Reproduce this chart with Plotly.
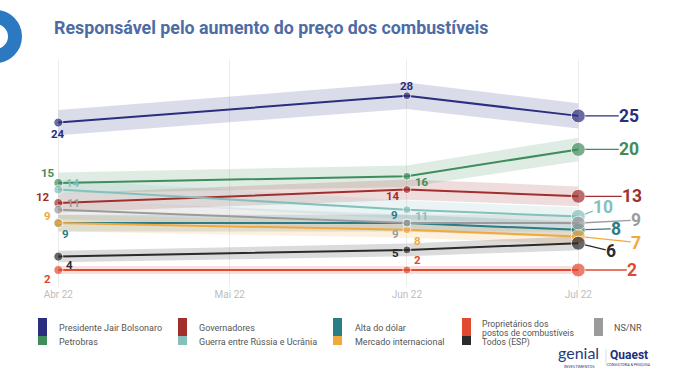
import math
import plotly.graph_objects as go

W, H = 679, 380

# ---------------- data ----------------
months = ["2022-04-01", "2022-05-01", "2022-06-01", "2022-07-01"]
month_labels = ["Abr 22", "Mai 22", "Jun 22", "Jul 22"]

series_names = [
    "Presidente Jair Bolsonaro",
    "Petrobras",
    "Governadores",
    "Guerra entre Rússia e Ucrânia",
    "Alta do dólar",
    "Mercado internacional",
    "Proprietários dos postos de combustíveis",
    "Todos (ESP)",
    "NS/NR",
]
bolsonaro = [24, None, 28, 25]
petrobras = [15, None, 16, 20]
governadores = [12, None, 14, 13]
guerra = [14, None, 11, 10]
alta_dolar = [9, None, 9, 8]
mercado = [9, None, 8, 7]
proprietarios = [2, None, 2, 2]
todos = [4, None, 5, 6]
nsnr = [11, None, 9, 9]
sample_size = 2000  # used for the shaded margin-of-error bands

values = [bolsonaro, petrobras, governadores, guerra, alta_dolar,
          mercado, proprietarios, todos, nsnr]

# ---------------- styles ----------------
colors = ["#2b2e7e", "#3f8c5c", "#a12f2d", "#86c0bb", "#2a7c87",
          "#f2a93b", "#e14a30", "#2b2b2b", "#9b9b9b"]
# label offsets in pixels (dx, dy; dy positive = down) for Abr / Jun / Jul
off_abr = [(0, 11), (-10, -10), (-15, -6), (15, -7), (7, 11),
           (-11, -7), (-11, 9), (11, 8), (15, -7)]
off_jun = [(0, -10), (15, 6), (-14, 6), (15, 6), (-12, -8),
           (11, 11), (11, -10), (-11, 3), (-11, 11)]
off_jul = [(51, 0), (51, 0), (54, 0), (25, -9), (38, -1),
           (58, 6), (54, 0), (33, 8), (58, -3)]
FONT = "Roboto"


def rgba(hexc, a):
    h = hexc.lstrip("#")
    r, g, b = int(h[0:2], 16), int(h[2:4], 16), int(h[4:6], 16)
    return f"rgba({r},{g},{b},{a})"


def px(x):
    return x / W


def py(y):
    return 1 - y / H


fig = go.Figure()

# bands
for vals, c in zip(values, colors):
    xs = [m for m, v in zip(months, vals) if v is not None]
    vs = [v for v in vals if v is not None]
    moe = [1.96 * math.sqrt((v / 100) * (1 - v / 100) / sample_size) * 100 for v in vs]
    up = [v + e for v, e in zip(vs, moe)]
    lo = [v - e for v, e in zip(vs, moe)]
    fig.add_trace(go.Scatter(
        x=xs + xs[::-1], y=up + lo[::-1], fill="toself", mode="none",
        fillcolor=rgba(c, 0.17), hoverinfo="skip", showlegend=False))

# lines + dots
for name, vals, c in zip(series_names, values, colors):
    xs = [m for m, v in zip(months, vals) if v is not None]
    vs = [v for v in vals if v is not None]
    fig.add_trace(go.Scatter(
        x=xs, y=vs, mode="lines+markers", name=name,
        line=dict(color=c, width=2),
        marker=dict(color=c, size=[9, 8, 14][:len(vs)]),
        showlegend=False))

annotations = []
for vals, c, oa, oj, ol in zip(values, colors, off_abr, off_jun, off_jul):
    for idx, off in ((0, oa), (2, oj)):
        annotations.append(dict(
            x=months[idx], y=vals[idx], xref="x", yref="y",
            text=f"<b>{vals[idx]}</b>", showarrow=False,
            xanchor="center", yanchor="middle",
            xshift=off[0], yshift=-off[1],
            font=dict(family=FONT, size=11.5, color=c)))
    annotations.append(dict(
        x=months[3], y=vals[3], xref="x", yref="y",
        text=f"<b>{vals[3]}</b>", showarrow=True, arrowhead=0,
        arrowwidth=1.3, arrowcolor=c, ax=ol[0], ay=ol[1],
        axref="pixel", ayref="pixel", standoff=7, borderpad=0,
        font=dict(family=FONT, size=17.5, color=c)))

# title
annotations.append(dict(
    x=px(52), y=py(27), xref="paper", yref="paper", xanchor="left",
    yanchor="middle", showarrow=False,
    text="<b>Responsável pelo aumento do preço dos combustíveis</b>",
    font=dict(family=FONT, size=17.8, color="#4d6ca6")))

shapes = []
# logo ring
cx, cy, r = -4.5, 36.5, 19.5
shapes.append(dict(type="circle", xref="paper", yref="paper",
                   x0=px(cx - r), x1=px(cx + r), y0=py(cy + r), y1=py(cy - r),
                   line=dict(color="#2d79c1", width=14)))

# custom legend
legend_cols = [
    (38, 57, [(0, "Presidente Jair Bolsonaro"), (1, "Petrobras")]),
    (178, 197, [(2, "Governadores"), (3, "Guerra entre Rússia e Ucrânia")]),
    (333, 353, [(4, "Alta do dólar"), (5, "Mercado internacional")]),
    (462, 480, [(6, "Proprietários dos postos de combustíveis"), (7, "Todos (ESP)")]),
    (594, 612, [(8, "NS/NR")]),
]
for rx, tx, items in legend_cols:
    for k, (si, label) in enumerate(items):
        y0, y1 = (318, 336) if k == 0 else (336, 345)
        shapes.append(dict(type="rect", xref="paper", yref="paper",
                           x0=px(rx), x1=px(rx + 9), y0=py(y1), y1=py(y0),
                           fillcolor=colors[si], line=dict(width=0)))
        if si == 6:
            lines = [("Proprietários dos", 323.5), ("postos de combustíveis", 333)]
            fs = 8.7
        elif si == 7:
            lines = [(label, 342.5)]
            fs = 8.7
        else:
            lines = [(label, 328 if k == 0 else 342)]
            fs = 9
        for t, ty in lines:
            annotations.append(dict(
                x=px(tx), y=py(ty), xref="paper", yref="paper",
                xanchor="left", yanchor="middle", showarrow=False, text=t,
                font=dict(family=FONT, size=fs, color="#555555")))

# logos
annotations.append(dict(x=px(578), y=py(352.5), xref="paper", yref="paper",
                        xanchor="center", yanchor="middle",
                        showarrow=False, text="genial",
                        font=dict(family="Lato", size=16, color="#2b3a7e")))
annotations.append(dict(x=px(579), y=py(366), xref="paper", yref="paper",
                        xanchor="center", yanchor="middle",
                        showarrow=False, text="INVESTIMENTOS",
                        font=dict(family=FONT, size=4, color="#2b3a7e")))
shapes.append(dict(type="line", xref="paper", yref="paper",
                   x0=px(606), x1=px(606), y0=py(366), y1=py(349),
                   line=dict(color="#dddddd", width=1)))
annotations.append(dict(x=px(629), y=py(355), xref="paper", yref="paper",
                        xanchor="center", yanchor="middle",
                        showarrow=False, text="<b>Quaest</b>",
                        font=dict(family=FONT, size=12, color="#1f2f7a")))
annotations.append(dict(x=px(629), y=py(364.5), xref="paper", yref="paper",
                        xanchor="center", yanchor="middle",
                        showarrow=False, text="CONSULTORIA & PESQUISA",
                        font=dict(family=FONT, size=3.5, color="#1f2f7a")))

fig.update_layout(
    width=W, height=H,
    margin=dict(l=0, r=0, t=0, b=0),
    paper_bgcolor="white", plot_bgcolor="white",
    showlegend=False,
    annotations=annotations, shapes=shapes,
    xaxis=dict(type="date", range=["2022-03-21 19:00", "2022-07-18 15:00"],
               tickvals=months, ticktext=month_labels,
               showgrid=True, gridcolor="#ececec", gridwidth=1,
               zeroline=False, showline=False, ticks="",
               tickfont=dict(family=FONT, size=10, color="#bdbdbd"),
               domain=[0, 1], automargin=False, fixedrange=True),
    yaxis=dict(range=[-0.537, 33.34], domain=[93 / H, 320 / H],
               visible=False, showgrid=False, zeroline=False,
               automargin=False, fixedrange=True),
)

fig.write_html("out.html", config={"displayModeBar": False},
               post_script="document.body.style.margin='0';document.body.style.overflow='hidden';")
